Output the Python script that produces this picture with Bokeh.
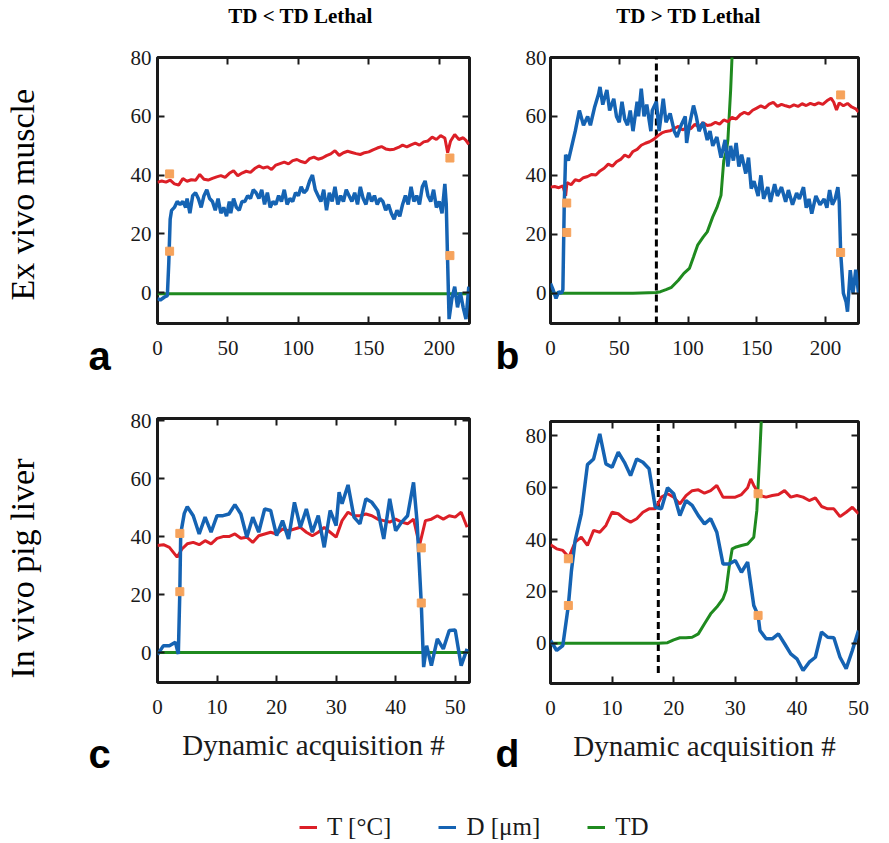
import math
from bokeh.plotting import figure
from bokeh.models import LinearAxis, Legend, LegendItem, Range1d, FixedTicker
from bokeh.core.properties import value
from bokeh.layouts import column, row
from bokeh.embed import file_html
from bokeh.resources import INLINE

# ---------------- data ----------------
ticks_y = [0, 20, 40, 60, 80]
ticks_x_ab = [0, 50, 100, 150, 200]
ticks_x_cd = [0, 10, 20, 30, 40, 50]

col_titles = ["TD < TD Lethal", "TD > TD Lethal"]
row_titles = ["Ex vivo muscle", "In vivo pig liver"]
panel_letters = ["a", "b", "c", "d"]
x_label = "Dynamic acquisition #"
legend_labels = ["T [°C]", "D [μm]", "TD"]

# panel a (ex vivo muscle, TD < TD lethal)
a_T_x = [0, 3, 6, 9, 12, 15, 18, 21, 24, 27, 30, 33, 36, 39, 42, 45, 48, 51, 54, 57, 60, 63, 66, 69, 72, 75, 78, 81, 84, 87,
         90, 93, 96, 99, 102, 105, 108, 111, 114, 117, 120, 123, 126, 129, 132, 135, 138, 141, 144, 147, 150, 153, 156, 159,
         162, 165, 168, 171, 174, 177, 180, 183, 186, 189, 192, 195, 198, 201, 204, 206, 208, 211, 214, 217, 219, 221]
a_T = [37.5, 38, 37.6, 38.3, 37, 36.6, 38.8, 37.9, 38.4, 38.2, 40.2, 38.6, 38.3, 38.9, 39.4, 39.8, 39.2, 40.6, 41.5, 39.8,
       40.7, 41.3, 40.9, 42.2, 43.1, 42.4, 42.8, 41.9, 43.4, 43.9, 44.4, 43.8, 44.9, 45.3, 44.6, 44.2, 45.6, 46.1, 45.4, 45.8,
       46.6, 47.2, 48.3, 46.7, 47.6, 48.1, 47.7, 47.3, 47, 47.6, 47.9, 48.6, 49.2, 49.7, 48.9, 48.6, 48.8, 49.4, 50.2, 49.6,
       50.3, 50.9, 50.2, 51.3, 51.6, 52.9, 52.1, 53.4, 52.6, 47.6, 51.5, 53.8, 52.1, 52.7, 51.8, 50.4]
a_D_x = [0, 2, 5, 7, 8, 9, 10, 12, 14, 16, 18, 20, 21, 23, 25, 27, 29, 31, 33, 35, 37, 39, 41, 43, 45, 47, 49, 51, 52, 54,
         56, 58, 60, 62, 64, 66, 68, 70, 72, 74, 76, 78, 80, 82, 84, 86, 88, 90, 92, 94, 96, 98, 100, 102, 104, 106, 108, 110,
         112, 114, 116, 118, 120, 122, 124, 126, 128, 130, 132, 134, 136, 138, 140, 142, 144, 146, 148, 150, 152, 154, 156,
         158, 160, 162, 164, 166, 168, 170, 172, 174, 176, 178, 180, 182, 184, 186, 188, 190, 192, 194, 196, 198, 200, 202,
         204, 205, 206, 207, 209, 211, 213, 215, 217, 219, 221]
a_D = [-2, -2.5, -1.5, -1, 10, 25, 28, 29, 31, 30, 31, 29, 32, 27, 33, 34, 32, 29, 33, 35, 32, 31, 28, 32, 27, 29, 26, 31,
       27, 32, 29, 28, 31, 31, 33, 32, 35, 34, 32, 35, 30, 34, 29, 31, 30, 33, 31, 35, 30, 32, 31, 34, 33, 36, 34, 35, 38, 40,
       35, 33, 31, 35, 28, 34, 31, 36, 30, 33, 31, 35, 33, 31, 34, 30, 36, 32, 30, 34, 31, 33, 30, 32, 31, 28, 30, 27, 25, 28,
       26, 30, 33, 30, 36, 31, 33, 30, 36, 38, 33, 31, 35, 29, 31, 27, 37, 30, 10, -9, -2, 2, -5, 0, -5, -9, 2]
a_TD_x = [0, 221]
a_TD = [-0.4, -0.4]
a_mark_x = [8.6, 8.6, 207.6, 207.6]
a_mark_y = [40.4, 14.1, 45.8, 12.6]

# panel b (ex vivo muscle, TD > TD lethal)
b_T_x = [0, 3, 6, 9, 11, 12, 15, 18, 21, 24, 27, 30, 33, 36, 39, 42, 45, 48, 51, 54, 57, 60, 63, 66, 69, 72, 75, 78, 81,
         84, 87, 90, 93, 96, 99, 102, 105, 108, 111, 114, 117, 120, 123, 126, 129, 132, 135, 138, 141, 144, 147, 150, 153,
         156, 159, 162, 165, 168, 171, 174, 177, 180, 183, 186, 189, 192, 195, 198, 201, 204, 206, 208, 210, 213, 216, 219,
         222, 224]
b_T = [36, 36.2, 35.8, 36.4, 33, 37.5, 36.8, 38.5, 38.1, 39.2, 39.6, 40.3, 40.1, 41.5, 42.4, 43.8, 43.1, 44.6, 45.4, 46.9,
       46.2, 48.1, 48.8, 50.2, 50.9, 51.4, 52.2, 53.4, 54.4, 54.9, 55.1, 55.9, 56.6, 55.4, 56.2, 55.8, 57.3, 56.4, 57.9,
       56.9, 57.2, 58, 57.4, 58.8, 58.2, 59.7, 59.1, 60.6, 61.4, 60.8, 62.1, 62.8, 63.6, 62.9, 64.2, 64.8, 63.4, 64.1, 63.6,
       63.2, 63.9, 63.4, 64.3, 63.7, 64.4, 63.9, 64.6, 64.1, 65.3, 66.2, 64.8, 62.2, 64.6, 63.6, 64.4, 63.2, 62.6, 61.5]
b_D_x = [0, 2, 4, 6, 8, 9, 10, 11, 13, 15, 18, 21, 24, 27, 29, 32, 35, 36, 38, 41, 43, 46, 48, 50, 52, 54, 56, 58, 60, 63,
         64, 66, 68, 70, 73, 74, 77, 79, 82, 84, 87, 90, 92, 95, 98, 99, 101, 104, 106, 108, 111, 114, 116, 118, 121, 124,
         126, 127, 129, 131, 133, 135, 137, 139, 142, 144, 146, 148, 151, 153, 155, 158, 160, 163, 165, 168, 171, 173, 176,
         179, 181, 184, 186, 188, 190, 193, 196, 199, 201, 203, 205, 207, 209, 210, 211, 213, 215, 216, 218, 220, 222, 224]
b_D = [3.3, 1, -1.8, 0.5, 0, 1.2, 30, 47, 45, 49, 55, 62, 57, 60, 57, 63, 67.7, 70, 64, 69, 62, 66, 60, 58, 65, 59, 57, 62,
       55, 65, 60, 69.4, 60, 64, 55, 62, 65, 55, 66, 58, 61, 55, 53, 57, 60, 51, 57, 63.7, 60, 55, 58, 52, 55, 50, 53, 46,
       50, 52, 43, 50, 45, 51, 43, 47, 40.6, 46, 35.5, 38, 33, 40, 32, 36, 31, 37, 33, 36, 31, 35, 30, 34, 32, 36, 29, 32,
       27, 33, 30, 32, 29, 35, 30, 32, 36, 31, 14, 0, -3, -6.3, 7.8, 0, 8, 0]
b_TD_x = [0, 20, 40, 60, 77, 80, 84, 88, 93, 97, 101, 104, 107, 111, 114, 118, 121, 124, 126, 128, 129, 131, 132, 133]
b_TD = [0, 0, 0, 0, 0.2, 0.5, 1.2, 2, 4.4, 6.7, 8.4, 12.3, 16.3, 19, 20.8, 25.9, 29, 33.2, 45, 48.5, 51.9, 68.8, 80, 92]
b_mark_x = [11.8, 11.8, 211, 211]
b_mark_y = [30.6, 20.6, 67.3, 13.8]
b_dash_x = [77]
b_dash_y0 = [-10.3]
b_dash_y1 = [80]

# panel c (in vivo pig liver, TD < TD lethal)
c_T_x = [0, 1, 2, 3.3, 4.1, 5, 6, 7, 8, 9, 10, 11, 12, 13, 14, 15, 16, 17, 18, 19, 20, 21, 22, 23, 24, 25, 26, 27, 28, 29,
         30, 31, 32, 33, 34, 35, 36, 37, 38, 39, 40, 41, 42, 43, 44, 45, 46, 47, 48, 49, 50, 51, 52]
c_T = [36.9, 37.2, 36.3, 32.9, 35.7, 37.5, 38, 37.2, 38.6, 37.5, 39.4, 40, 40, 40.9, 39.4, 39.8, 38, 40.3, 40.9, 41.5,
       40.9, 42.6, 42, 42.6, 43.2, 41.5, 40.3, 41.5, 43.2, 41.5, 39.8, 45.5, 48.4, 47.2, 47.2, 47.8, 47.2, 46, 45.5, 45,
       46, 45, 44.4, 46, 37, 45.5, 46, 47.2, 46, 47.2, 46.7, 48.4, 43.2]
c_D_x = [0, 1, 2, 3, 3.5, 3.75, 3.9, 4.5, 5, 6, 7, 8, 9, 10, 11, 12, 13, 14, 15, 16, 17, 18, 19, 20, 21, 22, 23, 24, 25,
         26, 27, 28, 29, 30, 30.5, 31, 32, 33, 34, 35, 36, 37, 38, 39, 40, 41, 42, 43, 43.6, 44.3, 44.7, 45.2, 46, 47, 48,
         49, 50, 51, 52]
c_D = [-0.7, 2.4, 2.4, 3.6, -0.5, 21, 41, 48, 50.3, 47.2, 40.9, 46.7, 41.5, 47.2, 47.2, 47.8, 51, 47.8, 39.8, 46.7, 41.5,
       49.5, 49, 40.3, 45.5, 39.2, 51.8, 43.2, 49.5, 41.5, 47.2, 36.3, 49, 43.8, 55.3, 51.3, 57.8, 46.7, 44.4, 53, 51.8,
       49, 39.2, 53, 42, 45, 47.2, 58.7, 45, 17, -5, 2.4, -4.5, 4.7, 1.3, 7.6, 7.8, -4.5, 1.3]
c_TD_x = [0, 52.4]
c_TD = [0, 0]
c_mark_x = [3.75, 3.75, 44.3, 44.3]
c_mark_y = [41.1, 21, 36.1, 17.1]

# panel d (in vivo pig liver, TD > TD lethal)
d_T_x = [0, 1, 2, 3, 4, 5, 6, 7, 8, 9, 10, 11, 12, 13, 14, 15, 16, 17, 18, 19, 20, 21, 22, 23, 24, 25, 26, 27, 28, 29, 30,
         31, 32, 32.5, 33, 34, 35, 36, 37, 38, 39, 40, 41, 42, 43, 44, 45, 46, 47, 48, 49, 50]
d_T = [38, 36.4, 35.8, 33.2, 39, 40.9, 37.7, 43.5, 42.8, 45.4, 50.5, 49.9, 48, 46.7, 48, 50.5, 51.8, 51.8, 56.3, 57.6,
       56.3, 53.7, 56.9, 58.8, 59.1, 57.8, 58.8, 60.8, 56.3, 56.3, 56.3, 57.3, 59.9, 63.3, 60.8, 56.9, 56.3, 56.9, 57.3,
       58.8, 56.3, 56.9, 56.3, 55, 56, 52.7, 51.8, 51.8, 48.8, 50.5, 52.4, 49.9]
d_D_x = [0, 1, 2, 2.9, 3.4, 4, 5, 6, 7, 8, 9, 10, 11, 12, 13, 14, 15, 16, 17, 18, 19, 20, 21, 22, 23, 24, 25, 26, 27, 28,
         29, 30, 31, 32, 33, 33.7, 34, 35, 36, 37, 38, 39, 40, 41, 42, 43, 44, 45, 46, 47, 48, 49, 50]
d_D = [1.2, -2.7, -0.8, 14.6, 28, 39.6, 49.9, 68.8, 71, 80.6, 69.1, 67.8, 73.6, 69.7, 64.6, 71, 69.7, 67.2, 52.4, 51.8,
       59.9, 57.6, 49.2, 55, 53.1, 49.2, 46, 48, 42.8, 30.6, 30.6, 31.9, 27.4, 31.3, 14.6, 10.8, 5, 1.8, 1.8, 3.7, -0.1,
       -4, -5.9, -10.4, -7.2, -5.3, 4.4, 2.4, 2.2, -5.3, -9.7, -2.7, 5]
d_TD_x = [0, 5, 10, 15, 17.5, 19, 20, 21, 22, 23, 24, 25, 26, 27, 28, 28.5, 29, 29.5, 30, 31, 32, 33, 33.5, 34, 34.3]
d_TD = [0.1, 0.1, 0.1, 0.1, 0.1, 0.3, 1.4, 2.2, 2.2, 2.4, 3.7, 7.6, 11.4, 14, 17.2, 20.4, 29.4, 36.4, 37, 37.7, 38.3,
        40.9, 51.2, 74.2, 90]
d_mark_x = [2.9, 2.9, 33.7, 33.7]
d_mark_y = [32.6, 14.6, 57.6, 10.8]
d_dash_x = [17.5]
d_dash_y0 = [-11.4]
d_dash_y1 = [85.4]

# ---------------- style ----------------
RED = "#dc1f27"
BLUE = "#1563b3"
GREEN = "#1f8a1f"
ORANGE = "#f6a35c"
SERIF = "Liberation Serif"
SANS = "Liberation Sans"
TXT = "#1a1a1a"


def style_axis(ax, labels=True):
    ax.axis_line_color = None
    ax.major_tick_in = 7
    ax.major_tick_out = 0
    ax.major_tick_line_width = 2
    ax.major_tick_line_color = TXT
    ax.minor_tick_line_color = None
    if labels:
        ax.major_label_text_font = SERIF
        ax.major_label_text_font_size = "21px"
        ax.major_label_text_color = TXT
    else:
        ax.major_label_text_font_size = "0px"
        ax.major_label_standoff = 0


def make_panel(w, h, bl, br, bt, bb, xr, yr, xt, yt, ystand=6, xlabel=None):
    p = figure(width=w, height=h, x_range=Range1d(*xr), y_range=Range1d(*yr),
               output_backend="svg", toolbar_location=None,
               min_border_left=bl, min_border_right=br, min_border_top=bt, min_border_bottom=bb)
    p.grid.visible = False
    p.outline_line_color = TXT
    p.outline_line_width = 3
    bx = p.below[0]
    ly = p.left[0]
    bx.ticker = FixedTicker(ticks=xt)
    ly.ticker = FixedTicker(ticks=yt)
    style_axis(bx)
    style_axis(ly)
    bx.major_label_standoff = 17
    ly.major_label_standoff = ystand
    if xlabel:
        bx.axis_label = xlabel
        bx.axis_label_text_font = SERIF
        bx.axis_label_text_font_size = "29px"
        bx.axis_label_text_font_style = "normal"
        bx.axis_label_text_color = TXT
        bx.axis_label_standoff = 12
    top = LinearAxis(ticker=FixedTicker(ticks=xt))
    right = LinearAxis(ticker=FixedTicker(ticks=yt))
    style_axis(top, labels=False)
    style_axis(right, labels=False)
    p.add_layout(top, "above")
    p.add_layout(right, "right")
    return p


def draw(p, Tx, T, Dx, D, TDx, TD, mx, my, dash=None):
    if dash is not None:
        p.segment(x0=dash[0], y0=dash[1], x1=dash[0], y1=dash[2], line_color="black",
                  line_width=3, line_dash="7 4")
    p.line(TDx, TD, line_color=GREEN, line_width=3)
    p.line(Tx, T, line_color=RED, line_width=3)
    p.line(Dx, D, line_color=BLUE, line_width=3.5)
    p.scatter(mx, my, marker="square", size=8, fill_color=ORANGE, line_color=ORANGE)


def text_strip(w, h):
    p = figure(width=w, height=h, x_range=Range1d(0, w), y_range=Range1d(0, h),
               output_backend="svg", toolbar_location=None, min_border=0,
               x_axis_location=None, y_axis_location=None)
    p.grid.visible = False
    p.outline_line_color = None
    return p


def put_text(p, x, y, txt, font, size, style="normal", align="left", angle=0.0):
    p.text(x=[x], y=[y], text=[txt], text_font=value(font), text_font_size=value(size),
           text_font_style=style, text_align=align, text_baseline="alphabetic",
           text_color="black", angle=angle)


# ---- title strip (page y 0..40) ----
pt = text_strip(878, 40)
put_text(pt, 300, 25, col_titles[0], SERIF, "21px", style="bold", align="center")
put_text(pt, 688, 25, col_titles[1], SERIF, "21px", style="bold", align="center")

# ---- left strip (page x 0..115, y 40..780) ----
pleft = text_strip(115, 740)
put_text(pleft, 22, 480, row_titles[0], SERIF, "34px", angle=math.pi / 2)
put_text(pleft, 22, 102, row_titles[1], SERIF, "34px", angle=math.pi / 2)
put_text(pleft, 88, 425, panel_letters[0], SANS, "40px", style="bold")
put_text(pleft, 88, 27, panel_letters[2], SANS, "40px", style="bold")

# ---- middle strip (page x 490..521) ----
pmid = text_strip(31, 740)
put_text(pmid, 5, 425, panel_letters[1], SANS, "39px", style="bold")
put_text(pmid, 5, 27, panel_letters[3], SANS, "39px", style="bold")

# ---- panels ----
pa = make_panel(375, 355, 42, 15, 17, 72, (0, 221.5), (-10.5, 80), ticks_x_ab, ticks_y)
draw(pa, a_T_x, a_T, a_D_x, a_D, a_TD_x, a_TD, a_mark_x, a_mark_y)

pb = make_panel(357, 355, 25, 20, 17, 72, (0, 224), (-10.3, 80), ticks_x_ab, ticks_y, ystand=4)
draw(pb, b_T_x, b_T, b_D_x, b_D, b_TD_x, b_TD, b_mark_x, b_mark_y, dash=(b_dash_x, b_dash_y0, b_dash_y1))

pc = make_panel(375, 385, 40, 21, 23, 98, (0, 52.4), (-10.3, 80.7), ticks_x_cd, ticks_y, xlabel=x_label)
draw(pc, c_T_x, c_T, c_D_x, c_D, c_TD_x, c_TD, c_mark_x, c_mark_y)

pd_ = make_panel(357, 385, 29, 15, 26, 97, (0, 50), (-15.4, 85.4), ticks_x_cd, ticks_y, ystand=4, xlabel=x_label)
draw(pd_, d_T_x, d_T, d_D_x, d_D, d_TD_x, d_TD, d_mark_x, d_mark_y, dash=(d_dash_x, d_dash_y0, d_dash_y1))

# ---- legend strip (page y 780..840) ----
pl = figure(width=878, height=60, x_range=Range1d(0, 1), y_range=Range1d(1000, 1001),
            output_backend="svg", toolbar_location=None, min_border=0,
            x_axis_location=None, y_axis_location=None)
pl.grid.visible = False
pl.outline_line_color = None
r1 = pl.line(a_T_x, a_T, line_color=RED, line_width=3)
r2 = pl.line(a_D_x, a_D, line_color=BLUE, line_width=3)
r3 = pl.line(a_TD_x, a_TD, line_color=GREEN, line_width=3)
leg = Legend(items=[LegendItem(label=legend_labels[0], renderers=[r1]),
                    LegendItem(label=legend_labels[1], renderers=[r2]),
                    LegendItem(label=legend_labels[2], renderers=[r3])],
             orientation="horizontal", location=(299, -1), padding=0, margin=0, spacing=47,
             glyph_width=18, glyph_height=20, label_standoff=10,
             label_text_font=SERIF, label_text_font_size="25px", label_text_color=TXT,
             border_line_color=None, background_fill_alpha=0)
pl.add_layout(leg, "center")

layout = column(pt,
                row(pleft, column(pa, pc), pmid, column(pb, pd_)),
                pl)
open("out.html", "w").write(file_html(layout, INLINE))
